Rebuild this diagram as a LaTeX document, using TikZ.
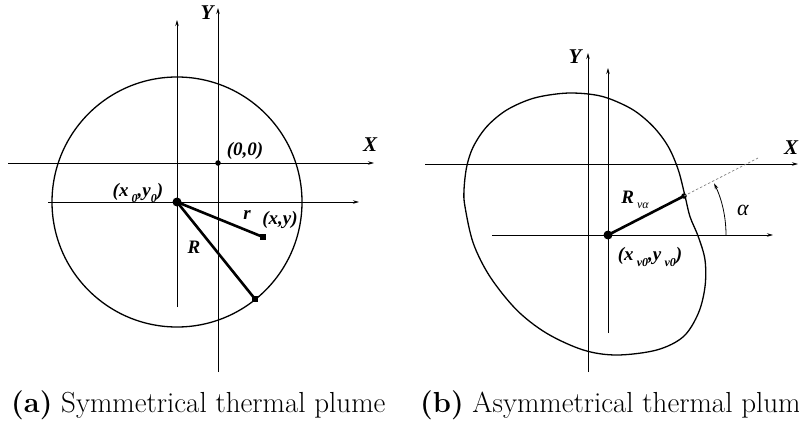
\documentclass[tikz,border=0pt]{standalone}
\usepackage{fontspec}
\newfontfamily\lbl{Liberation Serif}
\usetikzlibrary{arrows.meta}
\newcommand\lowidx[1]{\raisebox{-0.28em}{\fontsize{12}{13}\selectfont #1}}
\begin{document}
\begin{tikzpicture}[x=1pt,y=-1pt,
  axis/.style={line width=0.8pt,-{Stealth[length=6pt,width=3.5pt]}},
  plain/.style={line width=0.8pt},
  thickline/.style={line width=2.6pt},
  outline/.style={line width=1.3pt},
  lab/.style={font=\lbl\bfseries\itshape\fontsize{19}{22}\selectfont, inner sep=0pt},
  axlab/.style={font=\lbl\bfseries\itshape\fontsize{21}{24}\selectfont, inner sep=0pt},
  lab2/.style={font=\lbl\itshape\fontsize{22}{24}\selectfont, inner sep=0pt},
  captxt/.style={font=\fontsize{29}{34}\selectfont, inner sep=0pt, anchor=west},
  bigdot/.style={circle, fill, minimum size=9pt, inner sep=0pt},
  smalldot/.style={circle, fill, minimum size=5.5pt, inner sep=0pt},
  sq/.style={fill, minimum size=5.5pt, inner sep=0pt}]
\useasboundingbox (0,0) rectangle (799,436);

% ---------- left panel ----------
\coordinate (YaB) at (218,372); \coordinate (YaT) at (218,8);
\coordinate (VaB) at (177,307); \coordinate (VaT) at (177,20);
\coordinate (XaL) at (8,163);   \coordinate (XaR) at (374,163);
\coordinate (HaL) at (48,202);  \coordinate (HaR) at (359,202);
\draw[axis] (YaB) -- (YaT);
\draw[axis] (VaB) -- (VaT);
\draw[axis] (XaL) -- (XaR);
\draw[axis] (HaL) -- (HaR);
\node[axlab] (Ya) at (207,13) {Y};
\node[axlab] (Xa) at (370,145) {X};
\node[circle, draw, outline, minimum size=250pt, inner sep=0pt] (circ) at (177,202) {};
\node[bigdot] (c0) at (177,202) {};
\node[smalldot] (o) at (218,163) {};
\node[sq] (pxy) at (263,237) {};
\node[sq] (pR) at (255,299) {};
\draw[thickline] (c0.center) -- (pxy.center);
\draw[thickline] (c0.center) -- (pR.center);
\node[lab] (lo) at (245,151) {(0,0)};
\node[lab] (lc0) at (138,193) {(x\,\lowidx{0},y\lowidx{0})};
\node[lab] (lr) at (247,215) {r};
\node[lab] (lxy) at (280,220) {(x,y)};
\node[lab] (lR) at (194,247) {R};

% ---------- right panel ----------
\coordinate (YbB) at (588,372); \coordinate (YbT) at (588,53);
\coordinate (VbB) at (608,333); \coordinate (VbT) at (608,68);
\coordinate (XbL) at (425,164); \coordinate (XbR) at (798,164);
\coordinate (HbL) at (492,235); \coordinate (HbR) at (773,235);
\draw[axis] (YbB) -- (YbT);
\draw[axis] (VbB) -- (VbT);
\draw[axis] (XbL) -- (XbR);
\draw[axis] (HbL) -- (HbR);
\node[axlab] (Yb) at (575,57) {Y};
\node[axlab] (Xb) at (791,148) {X};
\draw[outline] plot[smooth cycle, tension=0.55] coordinates {
  (464,190) (466.7,166.7) (473.3,146.7) (486.7,126.7) (506.7,110)
  (533.3,98.3) (563.3,93.3) (588.3,94) (608.3,98.3) (633.3,110)
  (653.3,126.7) (668.3,146.7) (678.3,170) (685,196)
  (690,216.7) (698.3,236.7) (705,260) (705,286.7) (698.3,313.3)
  (683.3,336.7) (656.7,350) (616.7,355) (583.3,350) (546.7,333.3)
  (516.7,310) (490,276.7) (473.3,243.3) (465,206.7)};
\node[bigdot] (c1) at (608,235) {};
\node[smalldot] (pb) at (684,196) {};
\coordinate (dEnd) at (758,158);
\draw[thickline] (c1.center) -- (pb.center);
\draw[line width=0.7pt, gray, dash pattern=on 2.5pt off 2pt] (pb.center) -- (dEnd);
\coordinate (aStart) at (726,235);
\draw[line width=0.8pt,-{Stealth[length=6pt,width=3.5pt]}] (aStart) arc[start angle=0, end angle=26, radius=118pt];
\node[lab2] (la) at (743,210) {α};
\node[lab] (lRv) at (635,200) {R\,\lowidx{\mdseries vα}};
\node[lab] (lc1) at (650,257) {(x\,\lowidx{v0},y\,\lowidx{v0})};

% ---------- captions ----------
\node[captxt] (capa) at (11,405) {\textbf{(a)} Symmetrical thermal plume};
\node[captxt] (capb) at (420,405) {\textbf{(b)} Asymmetrical thermal plume};
\end{tikzpicture}
\end{document}
